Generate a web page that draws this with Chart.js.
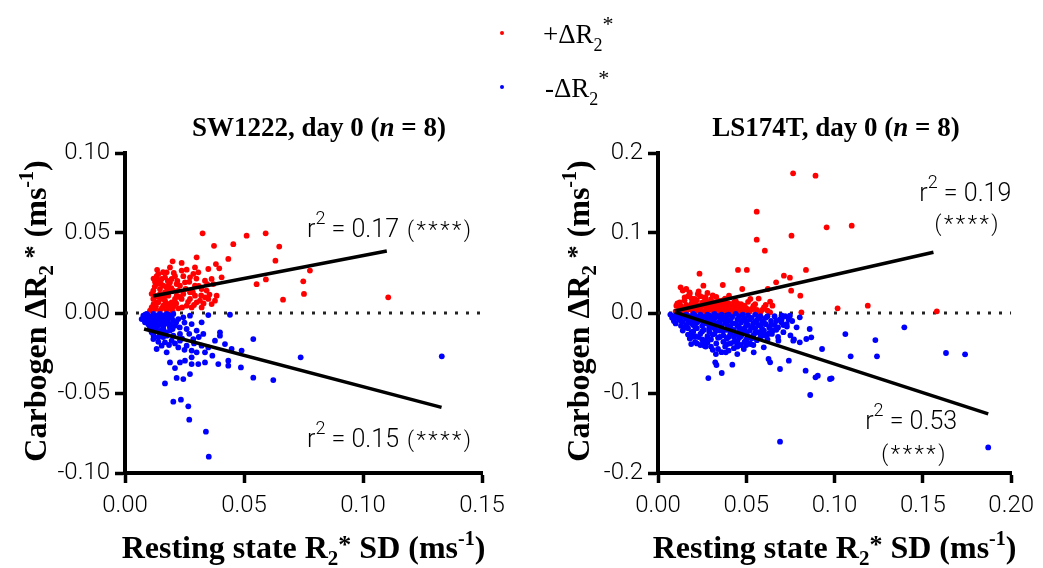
<!DOCTYPE html>
<html><head><meta charset="utf-8">
<script src="https://cdn.jsdelivr.net/npm/chart.js@4.4.1/dist/chart.umd.min.js"></script>
<style>
html,body{margin:0;padding:0;background:#fff;}
#wrap{position:relative;width:1043px;height:568px;background:#fff;}
canvas{position:absolute;left:0;top:0;}
</style></head><body>
<div id="wrap"><canvas id="c1" width="1043" height="568"></canvas><canvas id="c2" width="1043" height="568"></canvas></div>
<script>
// ---------- DATA ----------
const seriesNames = ['+ΔR2*', '-ΔR2*'];
const seriesColors = ['#ff0000', '#0000ff'];

const sw1222PosPts = [[0.0326,0.0498],[0.0374,0.0420],[0.0455,0.0430],[0.0511,0.0483],[0.0591,0.0498],[0.0648,0.0415],[0.0632,0.0327],[0.0434,0.0338],[0.0382,0.0306],[0.0396,0.0279],[0.0301,0.0348],[0.0200,0.0323],[0.0238,0.0313],[0.0406,0.0223],[0.0553,0.0180],[0.0592,0.0210],[0.0777,0.0265],[0.0749,0.0198],[0.0752,0.0119],[0.0664,0.0083],[0.1106,0.0098],
[0.0119,0.0140],[0.0140,0.0244],[0.0154,0.0213],[0.0133,0.0181],[0.0147,0.0150],[0.0168,0.0129],[0.0126,0.0108],[0.0140,0.0067],[0.0161,0.0046],[0.0168,0.0223],[0.0182,0.0171],[0.0217,0.0181],[0.0238,0.0088],[0.0259,0.0046],[0.0280,0.0035],[0.0322,0.0035],[0.0343,0.0140],[0.0259,0.0271],[0.0287,0.0244],[0.0273,0.0223],[0.0308,0.0254],[0.0336,0.0202],[0.0252,0.0192],[0.0294,0.0171],[0.0322,0.0150],[0.0364,0.0213],[0.0371,0.0181],[0.0385,0.0108],[0.0336,0.0098],[0.0350,0.0088],[0.0378,0.0077],[0.0301,0.0067],[0.0273,0.0088],[0.0245,0.0119],[0.0224,0.0140],[0.0210,0.0088],[0.0196,0.0067],[0.0182,0.0046],[0.0112,0.0035],[0.0105,0.0015],[0.0126,0.0025],[0.0147,0.0015],[0.0175,0.0021],[0.0196,0.0025],[0.0224,0.0029],[0.0154,0.0088],[0.0182,0.0108],[0.0203,0.0140],[0.0231,0.0171],[0.0161,0.0171],[0.0140,0.0202],[0.0175,0.0254],[0.0196,0.0213],[0.0217,0.0108],[0.0273,0.0129],[0.0294,0.0108],[0.0315,0.0077],[0.0364,0.0056],[0.0168,0.0077],[0.0133,0.0067],[0.0119,0.0088],[0.0189,0.0285],[0.0294,0.0285],[0.0238,0.0265],[0.0350,0.0275],
[0.0126,0.0195],[0.0133,0.0230],[0.0147,0.0120],[0.0155,0.0030],[0.0120,0.0055],[0.0112,0.0120],[0.0175,0.0160],[0.0189,0.0190],[0.0203,0.0040],[0.0210,0.0230],
[0.0125,0.0165],[0.0130,0.0040],[0.0140,0.0100],[0.0150,0.0185],[0.0160,0.0255],[0.0165,0.0105],[0.0175,0.0060],[0.0180,0.0200],[0.0185,0.0135],[0.0195,0.0155],[0.0200,0.0010],[0.0205,0.0250],[0.0215,0.0060],[0.0220,0.0200],[0.0230,0.0100],[0.0240,0.0035],[0.0245,0.0230],[0.0255,0.0150],[0.0265,0.0070],[0.0270,0.0195],[0.0285,0.0130],[0.0290,0.0050],[0.0300,0.0215],[0.0310,0.0170],[0.0320,0.0110],[0.0330,0.0060],[0.0345,0.0180],[0.0355,0.0115],[0.0120,0.0215],[0.0135,0.0270]];

const sw1222NegPts = [[0.0070,-0.0038],[0.0084,-0.0058],[0.0112,-0.0027],[0.0140,-0.0017],[0.0168,-0.0021],[0.0196,-0.0027],[0.0126,-0.0069],[0.0154,-0.0058],[0.0182,-0.0069],[0.0210,-0.0079],[0.0105,-0.0090],[0.0133,-0.0110],[0.0161,-0.0100],[0.0189,-0.0110],[0.0224,-0.0038],[0.0245,-0.0027],[0.0273,-0.0017],[0.0350,-0.0013],[0.0441,-0.0011],[0.0322,-0.0058],[0.0280,-0.0069],[0.0259,-0.0100],[0.0301,-0.0110],[0.0329,-0.0131],[0.0231,-0.0131],[0.0203,-0.0142],[0.0140,-0.0152],[0.0119,-0.0163],[0.0168,-0.0183],[0.0133,-0.0225],[0.0175,-0.0246],[0.0224,-0.0215],[0.0259,-0.0204],[0.0280,-0.0235],[0.0322,-0.0204],[0.0350,-0.0215],[0.0378,-0.0173],[0.0399,-0.0121],[0.0399,-0.0142],[0.0420,-0.0194],[0.0448,-0.0225],[0.0490,-0.0235],[0.0539,-0.0163],[0.0367,-0.0267],[0.0336,-0.0309],[0.0308,-0.0319],[0.0280,-0.0319],[0.0252,-0.0298],[0.0231,-0.0309],[0.0189,-0.0309],[0.0210,-0.0344],[0.0273,-0.0382],[0.0245,-0.0413],[0.0217,-0.0406],[0.0168,-0.0440],[0.0392,-0.0319],[0.0434,-0.0298],[0.0434,-0.0329],[0.0487,-0.0340],[0.0539,-0.0404],[0.0623,-0.0419],[0.0203,-0.0554],[0.0235,-0.0542],[0.0266,-0.0583],[0.0270,-0.0667],[0.0340,-0.0742],[0.0352,-0.0898],[0.0077,-0.0017],[0.0091,-0.0006],[0.0119,-0.0006],[0.0147,-0.0006],[0.0175,-0.0006],[0.0203,-0.0006],[0.0098,-0.0038],[0.0140,-0.0042],[0.0175,-0.0048],[0.0203,-0.0048],[0.0112,-0.0121],[0.0147,-0.0131],[0.0175,-0.0142],[0.0154,-0.0204],[0.0196,-0.0173],[0.0231,-0.0173],[0.0287,-0.0163],[0.0301,-0.0246],[0.0336,-0.0246],[0.0280,-0.0277],[0.0738,-0.0277],[0.1331,-0.0271],
[0.0126,-0.0030],[0.0154,-0.0030],[0.0182,-0.0035],[0.0133,-0.0085],[0.0161,-0.0080],[0.0189,-0.0090],[0.0112,-0.0060],[0.0098,-0.0070],[0.0230,-0.0090],[0.0250,-0.0060],
[0.0080,-0.0030],[0.0085,-0.0010],[0.0100,-0.0020],[0.0105,-0.0050],[0.0110,-0.0085],[0.0120,-0.0040],[0.0125,-0.0100],[0.0130,-0.0055],[0.0135,-0.0015],[0.0145,-0.0075],[0.0150,-0.0110],[0.0155,-0.0045],[0.0160,-0.0015],[0.0165,-0.0065],[0.0170,-0.0120],[0.0180,-0.0050],[0.0185,-0.0015],[0.0190,-0.0070],[0.0200,-0.0100],[0.0215,-0.0060],[0.0120,-0.0140],[0.0140,-0.0180],[0.0160,-0.0150],[0.0185,-0.0200],[0.0210,-0.0190],[0.0240,-0.0160],[0.0250,-0.0230],[0.0270,-0.0130],[0.0290,-0.0190],[0.0310,-0.0150]];

const ls174tPosPts = [[0.0765,0.1746],[0.0892,0.1717],[0.0559,0.1267],[0.0955,0.1071],[0.1097,0.1092],[0.0756,0.0967],[0.0559,0.0917],[0.0605,0.0779],[0.0453,0.0538],[0.0503,0.0538],[0.0838,0.0538],[0.0235,0.0492],[0.0367,0.0350],[0.0128,0.0321],[0.0257,0.0342],[0.0713,0.0467],[0.0747,0.0442],[0.0669,0.0383],[0.0622,0.0300],[0.0754,0.0279],[0.0806,0.0217],[0.0635,0.0142],[0.0648,0.0092],[0.0477,0.0300],[0.0523,0.0175],[0.0402,0.0217],[0.0179,0.0258],[0.0225,0.0237],[0.0263,0.0196],[0.0281,0.0133],[0.0207,0.0175],[0.0151,0.0196],[0.0123,0.0133],[0.0104,0.0092],[0.0132,0.0050],[0.0169,0.0071],[0.0225,0.0092],[0.0318,0.0133],[0.0374,0.0092],[0.0430,0.0133],[0.0486,0.0092],[0.0542,0.0050],[0.0412,0.0050],[0.0300,0.0050],[0.0635,0.0008],[0.0812,0.0008],[0.0357,0.0031],[0.0469,0.0031],[0.0207,0.0031],[0.0263,0.0010],[0.1017,0.0058],[0.1188,0.0092],[0.1579,0.0021],
[0.010,0.002],[0.012,0.004],[0.013,0.001],[0.015,0.006],[0.016,0.002],[0.018,0.008],[0.019,0.004],[0.020,0.001],[0.021,0.011],[0.022,0.006],[0.023,0.003],[0.025,0.009],[0.026,0.014],[0.027,0.002],[0.028,0.006],[0.029,0.011],[0.030,0.017],[0.031,0.003],[0.032,0.008],[0.033,0.013],[0.034,0.001],[0.035,0.005],[0.036,0.010],[0.037,0.016],[0.038,0.003],[0.039,0.007],[0.040,0.012],[0.041,0.001],[0.042,0.005],[0.043,0.009],[0.044,0.015],[0.045,0.002],[0.046,0.007],[0.047,0.011],[0.048,0.003],[0.050,0.006],[0.051,0.014],[0.052,0.002],[0.054,0.009],[0.056,0.004],[0.057,0.018],[0.058,0.001],[0.060,0.007],[0.062,0.003],[0.015,0.016],[0.017,0.021],[0.011,0.012],[0.013,0.009],[0.024,0.021],[0.028,0.025],[0.014,0.028],[0.019,0.018],[0.022,0.016],[0.031,0.022],
[0.012,0.007],[0.014,0.002],[0.016,0.010],[0.017,0.005],[0.019,0.012],[0.021,0.003],[0.022,0.009],[0.024,0.005],[0.025,0.013],[0.026,0.002],[0.027,0.008],[0.029,0.004],[0.030,0.009],[0.031,0.013],[0.033,0.005],[0.034,0.010],[0.035,0.015],[0.036,0.002],[0.037,0.007],[0.039,0.012],[0.040,0.004],[0.041,0.009],[0.043,0.002],[0.044,0.006],[0.045,0.012],[0.047,0.004],[0.049,0.009],[0.050,0.001],[0.053,0.005],[0.055,0.011],[0.059,0.004],[0.061,0.010],[0.020,0.015],[0.018,0.024],[0.023,0.027],[0.016,0.030],[0.027,0.019],[0.033,0.020],[0.038,0.018]];

const ls174tNegPts = [[0.0285,-0.0813],[0.0361,-0.0750],[0.0324,-0.0617],[0.0331,-0.0650],[0.0421,-0.0646],[0.0188,-0.0388],[0.0263,-0.0408],[0.0328,-0.0513],[0.0384,-0.0492],[0.0449,-0.0513],[0.0486,-0.0450],[0.0542,-0.0492],[0.0626,-0.0575],[0.0635,-0.0617],[0.0691,-0.0700],[0.0741,-0.0596],[0.0836,-0.0721],[0.0862,-0.1025],[0.0892,-0.0804],[0.0905,-0.0783],[0.0974,-0.0825],[0.0929,-0.0450],[0.0859,-0.0200],[0.0868,-0.0304],[0.0840,-0.0325],[0.0803,-0.0367],[0.0766,-0.0346],[0.0785,-0.0179],[0.0729,-0.0138],[0.0701,-0.0075],[0.0747,-0.0033],[0.0803,-0.0054],[0.0645,-0.0262],[0.0580,-0.0242],[0.0682,-0.0346],[0.0599,-0.0429],[0.0524,-0.0388],[0.0449,-0.0408],[0.0393,-0.0388],[0.1061,-0.0263],[0.1091,-0.0542],[0.1231,-0.0338],[0.1240,-0.0542],[0.1395,-0.0179],[0.1631,-0.0500],[0.1739,-0.0517],[0.0983,-0.0817],[0.1870,-0.1680],[0.0691,-0.1608],
[0.007,-0.002],[0.008,-0.006],[0.009,-0.010],[0.010,-0.003],[0.010,-0.013],[0.012,-0.001],[0.012,-0.008],[0.013,-0.016],[0.013,-0.004],[0.014,-0.022],[0.014,-0.011],[0.016,-0.002],[0.016,-0.007],[0.016,-0.015],[0.017,-0.027],[0.017,-0.019],[0.018,-0.004],[0.018,-0.011],[0.018,-0.032],[0.020,-0.001],[0.020,-0.008],[0.020,-0.015],[0.020,-0.023],[0.021,-0.036],[0.021,-0.029],[0.022,-0.005],[0.022,-0.012],[0.022,-0.019],[0.024,-0.002],[0.024,-0.009],[0.024,-0.026],[0.024,-0.040],[0.025,-0.016],[0.025,-0.033],[0.026,-0.005],[0.026,-0.021],[0.026,-0.012],[0.028,-0.002],[0.028,-0.008],[0.028,-0.029],[0.028,-0.037],[0.029,-0.015],[0.029,-0.023],[0.030,-0.004],[0.030,-0.011],[0.030,-0.033],[0.030,-0.042],[0.032,-0.001],[0.032,-0.007],[0.032,-0.019],[0.032,-0.026],[0.033,-0.013],[0.033,-0.038],[0.034,-0.004],[0.034,-0.031],[0.034,-0.045],[0.035,-0.010],[0.035,-0.022],[0.036,-0.002],[0.036,-0.016],[0.037,-0.028],[0.037,-0.036],[0.038,-0.006],[0.038,-0.012],[0.038,-0.042],[0.039,-0.021],[0.039,-0.032],[0.040,-0.002],[0.040,-0.009],[0.041,-0.017],[0.041,-0.026],[0.041,-0.038],[0.042,-0.005],[0.042,-0.013],[0.043,-0.030],[0.043,-0.044],[0.043,-0.021],[0.044,-0.001],[0.045,-0.008],[0.045,-0.016],[0.045,-0.035],[0.046,-0.024],[0.046,-0.004],[0.047,-0.012],[0.047,-0.029],[0.047,-0.040],[0.048,-0.002],[0.049,-0.007],[0.049,-0.019],[0.050,-0.025],[0.050,-0.033],[0.050,-0.011],[0.051,-0.003],[0.051,-0.015],[0.052,-0.038],[0.052,-0.022],[0.053,-0.006],[0.054,-0.013],[0.054,-0.028],[0.055,-0.002],[0.055,-0.019],[0.056,-0.009],[0.056,-0.034],[0.057,-0.024],[0.057,-0.015],[0.058,-0.004],[0.059,-0.010],[0.059,-0.020],[0.060,-0.028],[0.061,-0.014],[0.061,-0.006],[0.062,-0.033],[0.063,-0.018],[0.063,-0.025],[0.064,-0.010],[0.066,-0.004],[0.066,-0.015],[0.067,-0.021],[0.068,-0.030],[0.069,-0.008],[0.070,-0.012],[0.071,-0.024],[0.072,-0.004],[0.073,-0.017],[0.075,-0.028],[0.076,-0.010],[0.077,-0.033],
[0.011,-0.006],[0.013,-0.010],[0.015,-0.004],[0.015,-0.018],[0.017,-0.009],[0.019,-0.013],[0.019,-0.024],[0.021,-0.003],[0.021,-0.017],[0.023,-0.010],[0.023,-0.030],[0.025,-0.006],[0.025,-0.023],[0.027,-0.013],[0.027,-0.034],[0.029,-0.003],[0.029,-0.019],[0.031,-0.008],[0.031,-0.027],[0.031,-0.015],[0.033,-0.022],[0.033,-0.004],[0.035,-0.030],[0.035,-0.016],[0.036,-0.008],[0.037,-0.022],[0.039,-0.003],[0.039,-0.014],[0.040,-0.030],[0.041,-0.009],[0.042,-0.022],[0.043,-0.036],[0.044,-0.013],[0.044,-0.027],[0.046,-0.018],[0.046,-0.031],[0.048,-0.009],[0.048,-0.023],[0.049,-0.036],[0.050,-0.015],[0.051,-0.029],[0.052,-0.008],[0.053,-0.018],[0.053,-0.032],[0.055,-0.011],[0.055,-0.025],[0.057,-0.006],[0.058,-0.016],[0.058,-0.030],[0.060,-0.012],[0.060,-0.022],[0.062,-0.004],[0.062,-0.027],[0.064,-0.015],[0.065,-0.022],[0.067,-0.010],[0.068,-0.018],[0.070,-0.003],[0.071,-0.015],[0.074,-0.008],[0.027,-0.042],[0.031,-0.046],[0.036,-0.049],[0.040,-0.047],[0.045,-0.042],[0.050,-0.040],[0.022,-0.038],[0.019,-0.030],[0.026,-0.036],[0.054,-0.040]];

// regression lines (end points)
const sw1222PosFit = [[0.0118,0.0106],[0.110,0.0388]];
const sw1222NegFit = [[0.008,-0.010],[0.133,-0.059]];
const ls174tPosFit = [[0.0095,0.0025],[0.156,0.076]];
const ls174tNegFit = [[0.0095,0.001],[0.187,-0.126]];

// axes ticks
const swXTicks = [0, 0.05, 0.10, 0.15];
const swXTickLabels = ['0.00', '0.05', '0.10', '0.15'];
const swYTicks = [-0.10, -0.05, 0, 0.05, 0.10];
const swYTickLabels = ['-0.10', '-0.05', '0.00', '0.05', '0.10'];
const lsXTicks = [0, 0.05, 0.10, 0.15, 0.20];
const lsXTickLabels = ['0.00', '0.05', '0.10', '0.15', '0.20'];
const lsYTicks = [-0.2, -0.1, 0, 0.1, 0.2];
const lsYTickLabels = ['-0.2', '-0.1', '0.0', '0.1', '0.2'];

const panelNames = ['SW1222', 'LS174T'];
const fitLabels = [['0.17', '0.15'], ['0.19', '0.53']];

// ---------- STYLE / HELPERS ----------
const SERIF = '"Liberation Serif","Times New Roman",serif';
const SANS = 'Roboto,"Liberation Sans",sans-serif';
const F = (style, weight, size, fam) => `${style} ${weight} ${size}px ${fam}`;

function rich(ctx, runs, x, y, align) {
  let w = 0;
  runs.forEach(r => { ctx.font = r.font; ctx.letterSpacing = (r.ls || 0) + 'px'; r.w = ctx.measureText(r.t).width; w += r.w; });
  let cx = align === 'center' ? x - w / 2 : (align === 'right' ? x - w : x);
  ctx.textAlign = 'left'; ctx.textBaseline = 'alphabetic'; ctx.fillStyle = '#000';
  runs.forEach(r => { ctx.font = r.font; ctx.letterSpacing = (r.ls || 0) + 'px'; ctx.fillText(r.t, cx, y + (r.dy || 0)); cx += r.w; });
  ctx.letterSpacing = '0px';
}
const B = (t, size, dy, style) => ({ t, font: F(style || 'normal', 'bold', size, SERIF), dy });
const N = (t, size, dy, ls) => ({ t, font: F('normal', '300', size, SANS), dy, ls });
const R = (t, size, dy) => ({ t, font: F('normal', 'normal', size, SERIF), dy });

function titleRuns(name) { return [B(name + ', day 0 (', 27), B('n', 27, 0, 'italic'), B(' = 8)', 27)]; }
const yTitleRuns = () => [B('Carbogen ΔR', 32), B('2', 21, 7), B(' *', 26, -4), B(' (ms', 32), B('-1', 20, -13), B(')', 32)];
const xTitleRuns = () => [B('Resting state R', 32), B('2', 21, 7), B('*', 26, -5), B(' SD (ms', 32), B('-1', 20, -13), B(')', 32)];

function makePanel(id, cfg) {
  const decor = {
    id: 'decor' + id,
    afterDraw(chart) {
      const ctx = chart.ctx, xs = chart.scales.x, ys = chart.scales.y, ca = chart.chartArea;
      ctx.save();
      rich(ctx, titleRuns(cfg.name), cfg.titleX, 136, 'center');
      rich(ctx, xTitleRuns(), (ca.left + ca.right) / 2, 558, 'center');
      ctx.save();
      ctx.translate(cfg.yTitleX, 311);
      ctx.rotate(-Math.PI / 2);
      rich(ctx, yTitleRuns(), 0, 0, 'center');
      ctx.restore();
      cfg.notes.forEach(n => {
        const runs = n.paren ? [N('(****)', 22, 0, 2.5)]
          : [N('r', 25), N('2', 18, -13), N(' = ' + n.val, 25)].concat(n.inline ? [N(' (****)', 22, 0, 2.5)] : []);
        rich(ctx, runs, xs.getPixelForValue(n.x), ys.getPixelForValue(n.y), n.align);
      });
      if (cfg.legend) {
        const items = [{ y: 33, runs: [R('+ΔR', 27), R('2', 18, 8), R('*', 22, -12)], tx: 543 },
                       { y: 87, runs: [R('-ΔR', 27), R('2', 18, 8), R('*', 22, -12)], tx: 545 }];
        items.forEach((it, i) => {
          ctx.fillStyle = seriesColors[i];
          ctx.beginPath(); ctx.arc(502, it.y, 2, 0, Math.PI * 2); ctx.fill();
          rich(ctx, it.runs, it.tx, it.y + 10, 'left');
        });
      }
      ctx.restore();
    }
  };
  const tickFont = { family: 'Roboto, "Liberation Sans", sans-serif', size: 24, weight: '300' };
  const toXY = a => a.map(p => ({ x: p[0], y: p[1] }));
  return new Chart(document.getElementById(id), {
    type: 'scatter',
    data: {
      datasets: [
        { type: 'line', label: 'fit+', data: toXY(cfg.posFit), borderColor: '#000', borderWidth: 3.5, pointRadius: 0, fill: false, order: 0 },
        { type: 'line', label: 'fit-', data: toXY(cfg.negFit), borderColor: '#000', borderWidth: 3.5, pointRadius: 0, fill: false, order: 1 },
        { label: seriesNames[1], data: toXY(cfg.neg), backgroundColor: seriesColors[1], borderWidth: 0, pointRadius: 2.9, order: 2 },
        { label: seriesNames[0], data: toXY(cfg.pos), backgroundColor: seriesColors[0], borderWidth: 0, pointRadius: 2.9, order: 3 },
        { type: 'line', label: 'zero', data: [{ x: cfg.xMin, y: 0 }, { x: cfg.xMax, y: 0 }], borderColor: '#222', borderWidth: 3, borderDash: [3, 8], pointRadius: 0, fill: false, order: 4 }
      ]
    },
    options: {
      responsive: false, animation: false, events: [],
      layout: { padding: { left: 0, right: cfg.padRight, top: 153, bottom: 0 } },
      plugins: { legend: { display: false }, tooltip: { enabled: false } },
      scales: {
        x: {
          type: 'linear', min: cfg.xMin, max: cfg.xMax,
          afterFit: s => { s.height = 95; },
          afterBuildTicks: a => { a.ticks = cfg.xTicks.map(v => ({ value: v })); },
          ticks: { callback: (v, i) => cfg.xLabels[i], font: tickFont, color: '#000', padding: 9, maxRotation: 0, autoSkip: false },
          grid: { drawOnChartArea: false, drawTicks: true, tickLength: 10, tickWidth: 3.5, tickColor: '#000' },
          border: { display: true, width: 4, color: '#000' }
        },
        y: {
          type: 'linear', min: cfg.yMin, max: cfg.yMax,
          afterFit: s => { s.width = cfg.yAxisWidth; },
          afterBuildTicks: a => { a.ticks = cfg.yTicks.map(v => ({ value: v })); },
          ticks: { callback: (v, i) => cfg.yLabels[i], font: tickFont, color: '#000', padding: 5, autoSkip: false },
          grid: { drawOnChartArea: false, drawTicks: true, tickLength: 10, tickWidth: 3.5, tickColor: '#000' },
          border: { display: true, width: 4, color: '#000' }
        }
      }
    },
    plugins: [decor]
  });
}

makePanel('c1', {
  name: panelNames[0], pos: sw1222PosPts, neg: sw1222NegPts, posFit: sw1222PosFit, negFit: sw1222NegFit,
  xMin: 0, xMax: 0.15, yMin: -0.10, yMax: 0.10, xTicks: swXTicks, xLabels: swXTickLabels, yTicks: swYTicks, yLabels: swYTickLabels,
  yAxisWidth: 125, padRight: 1043 - 482, titleX: 319, yTitleX: 46, legend: true,
  notes: [{ x: 0.0765, y: 0.0475, val: fitLabels[0][0], inline: true, align: 'left' },
          { x: 0.0765, y: -0.0838, val: fitLabels[0][1], inline: true, align: 'left' }]
});
makePanel('c2', {
  name: panelNames[1], pos: ls174tPosPts, neg: ls174tNegPts, posFit: ls174tPosFit, negFit: ls174tNegFit,
  xMin: 0, xMax: 0.20, yMin: -0.2, yMax: 0.2, xTicks: lsXTicks, xLabels: lsXTickLabels, yTicks: lsYTicks, yLabels: lsYTickLabels,
  yAxisWidth: 658, padRight: 1043 - 1016, titleX: 836, yTitleX: 589, legend: false,
  notes: [{ x: 0.148, y: 0.140, val: fitLabels[1][0], align: 'left' },
          { x: 0.1754, y: 0.1025, paren: true, align: 'center' },
          { x: 0.1173, y: -0.145, val: fitLabels[1][1], align: 'left' },
          { x: 0.1453, y: -0.185, paren: true, align: 'center' }]
});
</script>
</body></html>
